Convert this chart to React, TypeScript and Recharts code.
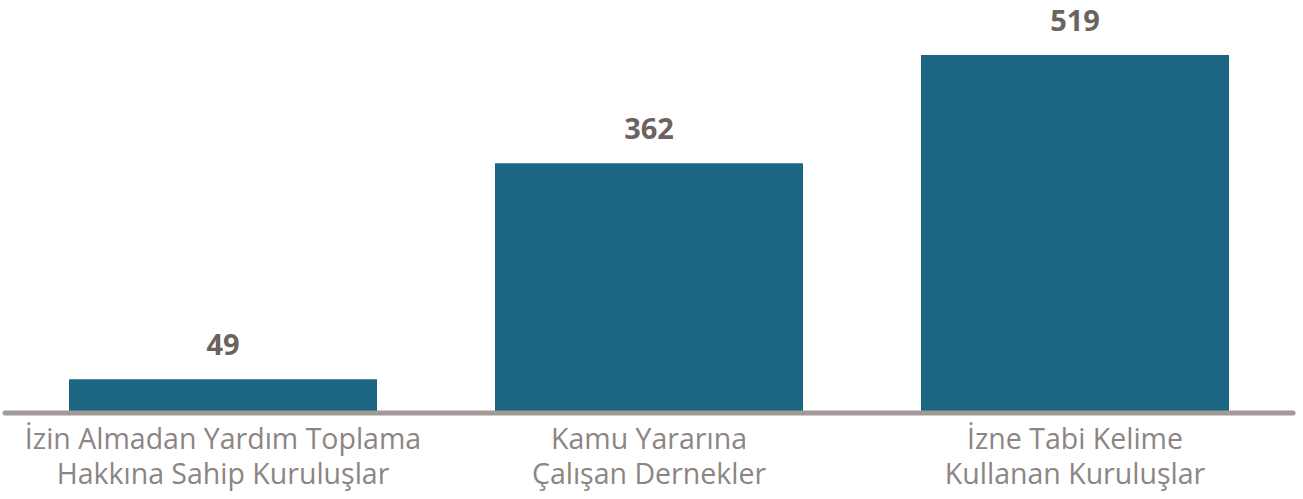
import React from 'react';
import { BarChart, Bar, XAxis, YAxis, LabelList } from 'recharts';

const categories = [
  ['İzin Almadan Yardım Toplama', 'Hakkına Sahip Kuruluşlar'],
  ['Kamu Yararına', 'Çalışan Dernekler'],
  ['İzne Tabi Kelime', 'Kullanan Kuruluşlar'],
];
const counts = [49, 362, 519];

const data = categories.map((lines, i) => ({ name: lines.join('\n'), value: counts[i] }));

const Tick = (props: any) => {
  const { x, y, payload } = props;
  const lines = String(payload.value).split('\n');
  return (
    <text
      x={x}
      y={y}
      textAnchor="middle"
      fill="#8c8583"
      fontSize={28.5}
      fontFamily="'Open Sans', sans-serif"
    >
      {lines.map((l, i) => (
        <tspan key={i} x={x} dy={i === 0 ? 28 : 35}>
          {l}
        </tspan>
      ))}
    </text>
  );
};

const App = () => {
  return (
    <div style={{ position: 'absolute', left: 0, top: 0, background: '#fff' }}>
      <BarChart
        width={1303}
        height={499}
        data={data}
        margin={{ top: 55, right: 10, left: 5, bottom: 0 }}
        barCategoryGap="13.85%"
      >
        <YAxis hide domain={[0, 519]} />
        <XAxis
          dataKey="name"
          interval={0}
          tickLine={false}
          axisLine={{ stroke: '#a19a97', strokeWidth: 5, strokeLinecap: 'round' }}
          padding={{ left: 5, right: 5 }}
          tick={<Tick />}
          height={86}
        />
        <Bar dataKey="value" fill="#1b6682" isAnimationActive={false}>
          <LabelList
            dataKey="value"
            position="top"
            offset={24}
            fill="#6b635f"
            fontSize={29}
            fontWeight="bold"
            fontFamily="'Open Sans', sans-serif"
          />
        </Bar>
      </BarChart>
    </div>
  );
};

export default App;
